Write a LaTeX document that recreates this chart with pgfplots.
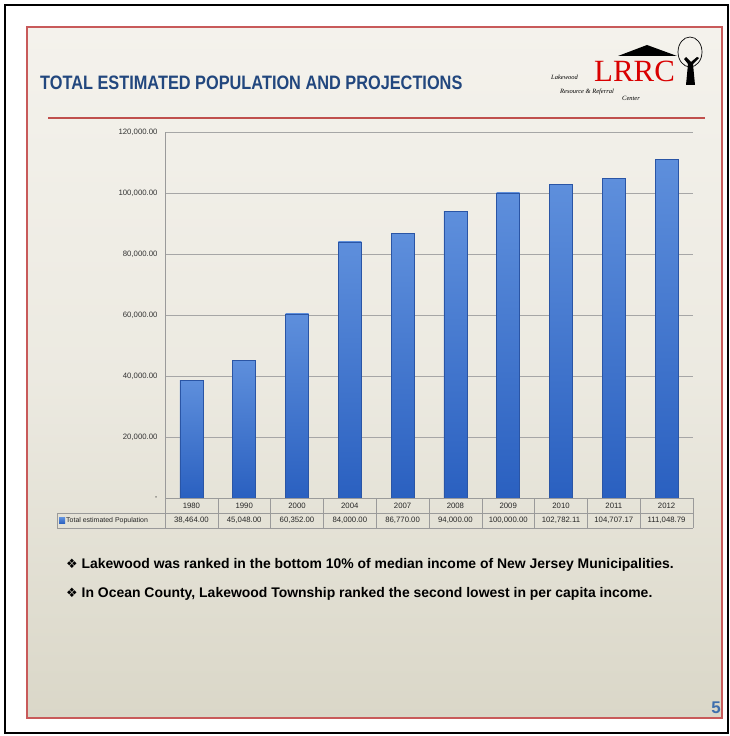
\documentclass[border=0pt]{standalone}
\usepackage{pgfplots}
\pgfplotsset{compat=1.18}
\usepackage{fontspec}
\setmainfont{Liberation Sans}
\newfontfamily\titlefont{Liberation Sans}[FakeStretch=0.84]
\newfontfamily\bulletfont{Liberation Sans}
\newfontfamily\seriffont{Liberation Serif}
\newfontfamily\symfont{DejaVu Sans}

\definecolor{titleblue}{HTML}{22477E}
\definecolor{framered}{HTML}{C85A5A}
\definecolor{linered}{HTML}{C0504D}
\definecolor{bartop}{HTML}{5E8FDC}
\definecolor{barbot}{HTML}{2A60C0}
\definecolor{barline}{HTML}{2A55A5}
\definecolor{bgtop}{HTML}{F4F2EC}
\definecolor{bgbot}{HTML}{DAD7C8}
\definecolor{tablegray}{HTML}{9A9A9A}
\definecolor{pagenum}{HTML}{3E6FAD}

\pgfplotsset{popbar/.style={ybar, bar width=23bp, bar shift=0pt, draw=barline, line width=0.5pt,
  top color=bartop, bottom color=barbot}}

\begin{document}
\begin{tikzpicture}[x=1bp,y=1bp]
\useasboundingbox (0,0) rectangle (730,736);
\fill[white] (0,0) rectangle (730,736);
% slide background and frames
\shade[top color=bgtop, bottom color=bgbot, middle color=bgtop!70!bgbot] (27,18) rectangle (722,709);
\draw[line width=2pt, black] (5,3) rectangle (728,731);
\draw[line width=1.5pt, framered] (27,18) rectangle (722,709);

% title and rule
\node[anchor=base west, inner sep=0, text=titleblue, font=\titlefont\bfseries\fontsize{19.5}{22}\selectfont] at (40,646) {TOTAL ESTIMATED POPULATION AND PROJECTIONS};
\draw[line width=1.5pt, linered] (48,618) -- (705,618);

% logo
\fill[black] (618,680) -- (677,680) -- (647,691) -- cycle;
\node[anchor=base west, inner sep=0, text depth=0pt, text=red!85!black, font=\seriffont\fontsize{31}{31}\selectfont] at (594,654) {LRRC};
\node[anchor=base west, inner sep=0, font=\seriffont\itshape\fontsize{6.5}{7}\selectfont] at (551,656) {Lakewood};
\node[anchor=base west, inner sep=0, font=\seriffont\itshape\fontsize{6.5}{7}\selectfont] at (560,642.5) {Resource \& Referral};
\node[anchor=base west, inner sep=0, font=\seriffont\itshape\fontsize{6.5}{7}\selectfont] at (622,635) {Center};
\draw[line width=0.7pt] (690,684) ellipse [x radius=12, y radius=15];
\fill[black] (686,651) -- (695,651) -- (693,672) -- (699,678) -- (697,679) -- (691,674) -- (686,679) -- (684,677) -- (688,672) -- cycle;

\begin{axis}[
  at={(165bp,238bp)}, anchor=south west,
  scale only axis, width=528bp, height=366bp,
  xmin=-0.5, xmax=9.5, ymin=0, ymax=120000,
  axis lines*=left,
  axis line style={-, draw=tablegray},
  tick style={draw=none},
  xtick=\empty,
  scaled y ticks=false,
  ytick={0,20000,40000,60000,80000,100000,120000},
  yticklabels={-, {20,000.00}, {40,000.00}, {60,000.00}, {80,000.00}, {100,000.00}, {120,000.00}},
  yticklabel style={font=\fontsize{7.8}{9}\selectfont, text=black!80, xshift=-4bp},
  ymajorgrids, grid style={draw=gray!70, line width=0.6pt},
]
\addplot[popbar] coordinates {(0,38464)};
\addplot[popbar] coordinates {(1,45048)};
\addplot[popbar] coordinates {(2,60352)};
\addplot[popbar] coordinates {(3,84000)};
\addplot[popbar] coordinates {(4,86770)};
\addplot[popbar] coordinates {(5,94000)};
\addplot[popbar] coordinates {(6,100000)};
\addplot[popbar] coordinates {(7,102782.11)};
\addplot[popbar] coordinates {(8,104707.17)};
\addplot[popbar] coordinates {(9,111048.79)};
\end{axis}

% data table under the chart
\draw[tablegray, line width=0.6pt] (57,223) -- (693,223);
\draw[tablegray, line width=0.6pt] (57,208) -- (693,208);
\draw[tablegray, line width=0.6pt] (57,208) -- (57,223);
\foreach \k in {0,...,10} {
  \draw[tablegray, line width=0.6pt] ({165+52.8*\k},208) -- ({165+52.8*\k},238);
}
\foreach \lab [count=\i from 0] in {1980,1990,2000,2004,2007,2008,2009,2010,2011,2012} {
  \node[font=\fontsize{7.8}{9}\selectfont, text=black!85] at ({165+52.8*\i+26.4},230.5) {\lab};
}
\foreach \val [count=\i from 0] in {{38,464.00},{45,048.00},{60,352.00},{84,000.00},{86,770.00},{94,000.00},{100,000.00},{102,782.11},{104,707.17},{111,048.79}} {
  \node[font=\fontsize{7.8}{9}\selectfont, text=black!85] at ({165+52.8*\i+26.4},215.5) {\val};
}
\fill[top color=bartop, bottom color=barbot] (59,212.5) rectangle (65,218.5);
\node[anchor=west, inner sep=0, font=\fontsize{7}{8}\selectfont, text=black!85] at (66,215.5) {Total estimated Population};

% bullet text
\node[anchor=base west, inner sep=0, font=\bulletfont\bfseries\fontsize{14}{16}\selectfont] at (66,167)
  {{\symfont\fontsize{13}{14}\selectfont ❖} Lakewood was ranked in the bottom 10\% of median income of New Jersey Municipalities.};
\node[anchor=base west, inner sep=0, font=\bulletfont\bfseries\fontsize{14}{16}\selectfont] at (66,138)
  {{\symfont\fontsize{13}{14}\selectfont ❖} In Ocean County, Lakewood Township ranked the second lowest in per capita income.};

% page number
\node[anchor=base east, inner sep=0, text=pagenum, font=\bfseries\fontsize{17}{18}\selectfont] at (721,22) {5};
\end{tikzpicture}
\end{document}
